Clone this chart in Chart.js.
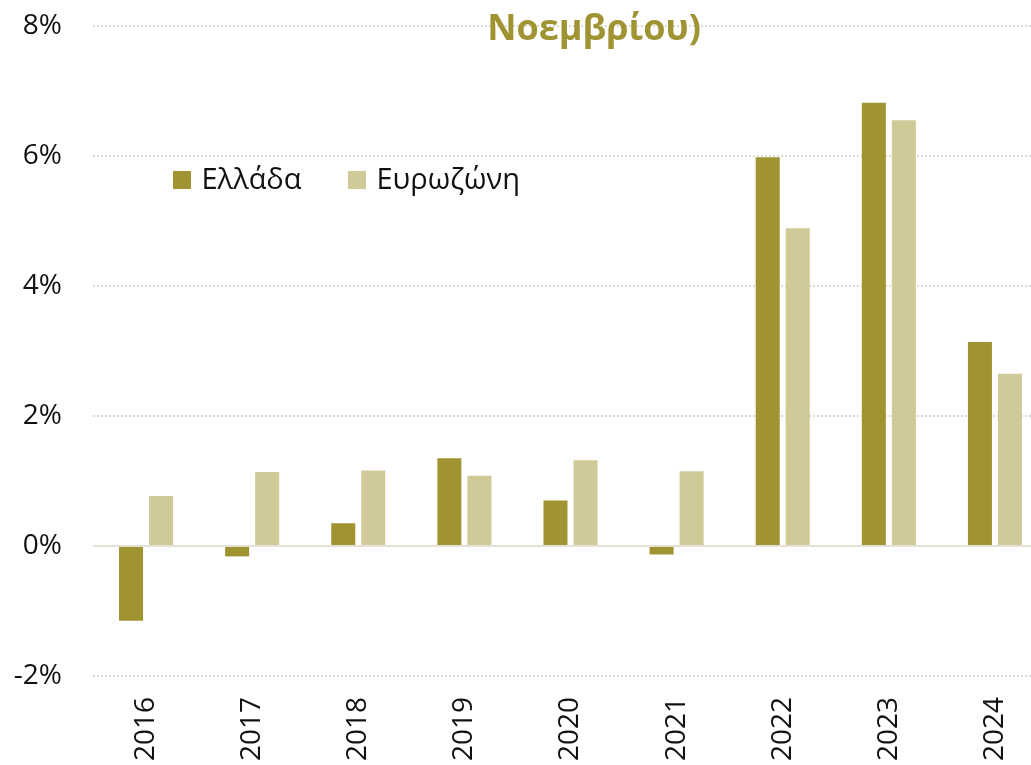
<!DOCTYPE html>
<html>
<head>
<meta charset="utf-8">
<script src="https://cdn.jsdelivr.net/npm/chart.js@4.4.1/dist/chart.umd.min.js"></script>
<style>
  html, body { margin: 0; padding: 0; background: #ffffff; overflow: hidden; }
  #wrap { position: absolute; left: 0; top: 0; width: 1060px; height: 765px; }
</style>
</head>
<body>
<div id="wrap"><canvas id="c"></canvas></div>
<script>
const titleText = "Νοεμβρίου)";
const categories = ["2016", "2017", "2018", "2019", "2020", "2021", "2022", "2023", "2024"];
const seriesNames = ["Ελλάδα", "Ευρωζώνη"];
const greece = [-1.15, -0.16, 0.35, 1.35, 0.70, -0.13, 5.98, 6.82, 3.14];
const eurozone = [0.77, 1.14, 1.16, 1.08, 1.32, 1.15, 4.89, 6.55, 2.65];
const yTicks = [-2, 0, 2, 4, 6, 8];
const colors = ["#a09332", "#cfca98"];

const overlay = {
  id: "overlay",
  afterDraw(chart) {
    const ctx = chart.ctx;
    ctx.save();
    ctx.font = "bold 36px 'Open Sans'";
    ctx.fillStyle = "#a09332";
    ctx.textAlign = "center";
    ctx.textBaseline = "alphabetic";
    ctx.fillText(titleText, 594, 39.5);
    ctx.font = "29px 'Open Sans'";
    ctx.textAlign = "left";
    const starts = [173, 348];
    chart.data.datasets.forEach((ds, i) => {
      ctx.fillStyle = ds.backgroundColor;
      ctx.fillRect(starts[i], 171, 18, 18);
      ctx.fillStyle = "#111111";
      ctx.fillText(ds.label, starts[i] + 28.5, 189.3);
    });
    ctx.restore();
  }
};

new Chart(document.getElementById("c"), {
  type: "bar",
  data: {
    labels: categories,
    datasets: [
      { label: seriesNames[0], data: greece, backgroundColor: colors[0], borderWidth: 0,
        categoryPercentage: 0.566, barPercentage: 0.8 },
      { label: seriesNames[1], data: eurozone, backgroundColor: colors[1], borderWidth: 0,
        categoryPercentage: 0.566, barPercentage: 0.8 }
    ]
  },
  options: {
    responsive: true,
    maintainAspectRatio: false,
    animation: false,
    layout: { autoPadding: false, padding: { top: 26, left: 13, right: 12, bottom: 4 } },
    plugins: {
      legend: { display: false },
      title: { display: false },
      tooltip: { enabled: false }
    },
    scales: {
      x: {
        afterFit(axis) { axis.height = 85; axis.paddingLeft = 0; axis.paddingRight = 0; },
        grid: { display: false, drawTicks: false },
        border: { display: false },
        ticks: {
          minRotation: 90, maxRotation: 90, padding: 21,
          color: "#111111",
          font: { family: "'Open Sans'", size: 28 }
        }
      },
      y: {
        min: -2, max: 8,
        afterFit(axis) { axis.width = 80; axis.paddingTop = 0; axis.paddingBottom = 0; },
        afterBuildTicks(axis) { axis.ticks = yTicks.map(v => ({ value: v })); },
        grid: {
          drawTicks: false,
          color: (c) => (c.tick && c.tick.value === 0) ? "#e4e1d8" : "#dedbd0",
          lineWidth: 2
        },
        border: {
          display: false,
          dash: (c) => (c.tick && c.tick.value === 0) ? [] : [2, 2]
        },
        ticks: {
          padding: 31,
          color: "#111111",
          font: { family: "'Open Sans'", size: 28 },
          callback: (v) => v + "%"
        }
      }
    }
  },
  plugins: [overlay]
});
</script>
</body>
</html>
